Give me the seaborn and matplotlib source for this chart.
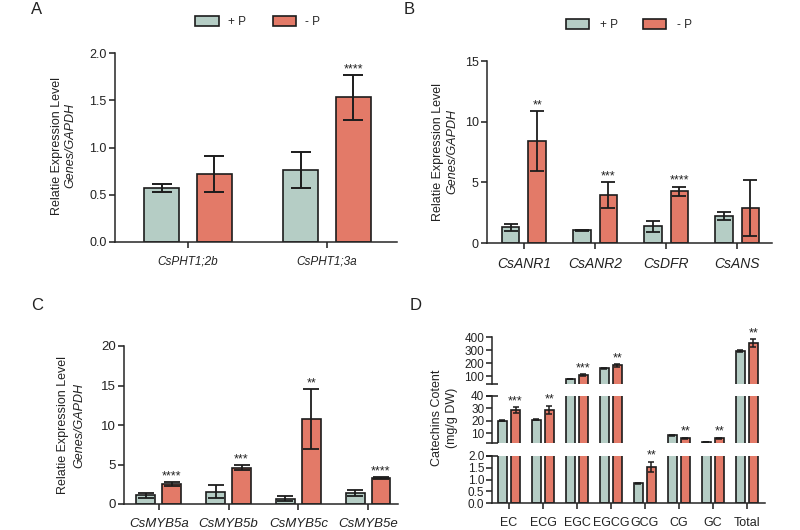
import numpy as np
import pandas as pd
import matplotlib
matplotlib.use("Agg")
import matplotlib.pyplot as plt
from matplotlib.ticker import FormatStrFormatter
import seaborn as sns

# ---------------- data ----------------
conds = ["+ P", "- P"]

genes_a = ["CsPHT1;2b", "CsPHT1;3a"]
a_plus = [0.57, 0.76]
a_plus_err = [0.04, 0.19]
a_minus = [0.72, 1.53]
a_minus_err = [0.19, 0.24]
a_sig = ["", "****"]

genes_b = ["CsANR1", "CsANR2", "CsDFR", "CsANS"]
b_plus = [1.3, 1.05, 1.37, 2.2]
b_plus_err = [0.3, 0.05, 0.46, 0.34]
b_minus = [8.4, 3.95, 4.27, 2.88]
b_minus_err = [2.5, 1.08, 0.38, 2.3]
b_sig = ["**", "***", "****", ""]

genes_c = ["CsMYB5a", "CsMYB5b", "CsMYB5c", "CsMYB5e"]
c_plus = [1.08, 1.58, 0.67, 1.38]
c_plus_err = [0.32, 0.8, 0.35, 0.35]
c_minus = [2.5, 4.58, 10.75, 3.33]
c_minus_err = [0.28, 0.3, 3.75, 0.12]
c_sig = ["****", "***", "**", "****"]

compounds = ["EC", "ECG", "EGC", "EGCG", "GCG", "CG", "GC", "Total"]
d_plus = [20.0, 21.0, 78, 162, 0.83, 8.1, 2.7, 292]
d_plus_err = [0.3, 0.4, 2, 4, 0.04, 0.2, 0.1, 6]
d_minus = [28.5, 29.0, 108, 182, 1.54, 6.0, 5.8, 352]
d_minus_err = [2.5, 3.2, 5, 13, 0.22, 0.4, 0.6, 30]
d_sig = ["***", "**", "***", "**", "**", "**", "**", "**"]

# ---------------- style ----------------
sns.set_style("ticks")
plt.rcParams["font.family"] = ["Liberation Sans", "DejaVu Sans"]
plt.rcParams["axes.linewidth"] = 1.1

TEAL = "#b5cdc5"
SALMON = "#e37a68"
INK = "#1c1c1c"
TXT = "#222222"

W, H = 800, 530
fig = plt.figure(figsize=(8, 5.3), dpi=100)


def px(l, t, r, b):
    return [l / W, 1 - b / H, (r - l) / W, (b - t) / H]


def fx(x):
    return x / W


def fy(y):
    return 1 - y / H


def make_df(cats, plus, minus):
    n = len(cats)
    return pd.DataFrame({
        "gene": list(cats) * 2,
        "cond": [conds[0]] * n + [conds[1]] * n,
        "value": list(plus) + list(minus),
    })


def draw_bars(ax, df, width, gap, legend=False):
    sns.barplot(data=df, x="gene", y="value", hue="cond", hue_order=conds,
                palette=[TEAL, SALMON], width=width, gap=gap, errorbar=None,
                saturation=1, edgecolor=INK, linewidth=1.2, legend=legend,
                ax=ax, zorder=2)
    return list(ax.containers[:2])


def add_errors(ax, bars, errs_list, capsize, lw, yrange=None):
    for cont, errs in zip(bars, errs_list):
        xs, ys, es = [], [], []
        for p, e in zip(cont, errs):
            v = p.get_height()
            if yrange is not None and not (yrange[0] <= v <= yrange[1]):
                continue
            xs.append(p.get_x() + p.get_width() / 2)
            ys.append(v)
            es.append(e)
        if xs:
            ax.errorbar(xs, ys, yerr=es, fmt="none", ecolor=INK, elinewidth=lw,
                        capsize=capsize, capthick=lw, zorder=3)


def add_stars(ax, cont, vals, errs, sigs, fs=9):
    for p, v, e, s in zip(cont, vals, errs, sigs):
        if s:
            ax.annotate(s, xy=(p.get_x() + p.get_width() / 2, v + e),
                        xytext=(0, 2), textcoords="offset points",
                        ha="center", va="baseline", fontsize=fs, color=TXT,
                        annotation_clip=False)


def style_axis(ax, ytick_fs, xtick_fs, italic=True):
    sns.despine(ax=ax)
    ax.set_xlabel("")
    ax.set_ylabel("")
    ax.tick_params(axis="both", direction="out", length=4, width=1.1,
                   color=INK, labelcolor=TXT)
    ax.tick_params(axis="y", labelsize=ytick_fs, pad=2)
    ax.tick_params(axis="x", labelsize=xtick_fs, pad=6)
    if italic:
        for lab in ax.get_xticklabels():
            lab.set_fontstyle("italic")


def ylabel2(x1, x2, yc1, yc2, l1, l2, fs=9, italic2=True):
    fig.text(fx(x1), fy(yc1), l1, rotation=90, ha="center", va="center",
             fontsize=fs, color=TXT)
    fig.text(fx(x2), fy(yc2), l2, rotation=90, ha="center", va="center",
             fontsize=fs, color=TXT, fontstyle="italic" if italic2 else "normal")


# ---------------- Panel A ----------------
axA = fig.add_axes(px(115, 53, 397, 242))
barsA = draw_bars(axA, make_df(genes_a, a_plus, a_minus), 0.76, 0.34, legend=True)
add_errors(axA, barsA, [a_plus_err, a_minus_err], 7, 1.4)
add_stars(axA, barsA[1], a_minus, a_minus_err, a_sig)
axA.set_ylim(0, 2.0)
axA.set_yticks([0, 0.5, 1.0, 1.5, 2.0])
axA.yaxis.set_major_formatter(FormatStrFormatter("%.1f"))
axA.set_xlim(-0.525, 1.504)
style_axis(axA, 9, 8.5)
sns.move_legend(axA, "center", bbox_to_anchor=(0.322, 0.959),
                bbox_transform=fig.transFigure, ncol=2, frameon=False,
                title=None, fontsize=8.5, handlelength=2.0, handleheight=1.0,
                handletextpad=0.75, columnspacing=2.3)
ylabel2(57, 70, 146, 146, "Relatie Expression Level", "Genes/GAPDH")

# ---------------- Panel B ----------------
axB = fig.add_axes(px(487, 61, 772, 243))
barsB = draw_bars(axB, make_df(genes_b, b_plus, b_minus), 0.746, 0.34, legend=True)
add_errors(axB, barsB, [b_plus_err, b_minus_err], 4.8, 1.3)
add_stars(axB, barsB[1], b_minus, b_minus_err, b_sig)
axB.set_ylim(0, 15)
axB.set_yticks([0, 5, 10, 15])
axB.set_xlim(-0.52, 3.49)
style_axis(axB, 9, 10)
sns.move_legend(axB, "center", bbox_to_anchor=(0.786, 0.953),
                bbox_transform=fig.transFigure, ncol=2, frameon=False,
                title=None, fontsize=8.5, handlelength=2.0, handleheight=1.0,
                handletextpad=0.9, columnspacing=2.1)
ylabel2(438, 452, 152, 152, "Relatie Expression Level", "Genes/GAPDH")

# ---------------- Panel C ----------------
axC = fig.add_axes(px(124, 346, 398, 504))
barsC = draw_bars(axC, make_df(genes_c, c_plus, c_minus), 0.743, 0.27)
add_errors(axC, barsC, [c_plus_err, c_minus_err], 5.5, 1.3)
add_stars(axC, barsC[1], c_minus, c_minus_err, c_sig)
axC.set_ylim(0, 20)
axC.set_yticks([0, 5, 10, 15, 20])
axC.set_xlim(-0.5, 3.43)
style_axis(axC, 9.5, 9.5)
ylabel2(63, 79, 425, 425, "Relatie Expression Level", "Genes/GAPDH")

# ---------------- Panel D (broken axis) ----------------
dfD = make_df(compounds, d_plus, d_minus)
seg_specs = [
    # (top px, bottom px, ylim, yticks, boundary ticks)
    (337, 384, (40, 400), [100, 200, 300, 400], [40]),
    (396, 443, (2, 40), [10, 20, 30, 40], [2, 40]),
    (456, 503, (0, 2.0), [0, 0.5, 1.0, 1.5, 2.0], [2.0]),
]
d_axes = []
for i, (t, b, yl, yt, bt) in enumerate(seg_specs):
    ax = fig.add_axes(px(492, t, 765, b))
    bars = draw_bars(ax, dfD, 0.765, 0.30)
    add_errors(ax, bars, [d_plus_err, d_minus_err], 2.4, 1.1, yrange=yl)
    ax.set_ylim(*yl)
    ax.set_yticks(yt)
    ax.set_xlim(-0.5, 7.53)
    style_axis(ax, 8.5, 9, italic=False)
    ax.tick_params(axis="y", pad=1.5)
    ax.yaxis.remove_overlapping_locs = False
    ax.set_yticks(bt, minor=True)
    ax.tick_params(axis="y", which="minor", direction="inout", length=9,
                   width=1.1, color=INK)
    if i == 2:
        ax.yaxis.set_major_formatter(FormatStrFormatter("%.1f"))
    else:
        ax.spines["bottom"].set_visible(False)
        ax.tick_params(axis="x", bottom=False, labelbottom=False)
    d_axes.append((ax, bars))

# stars in the segment holding the top of each error bar
for j, s in enumerate(d_sig):
    top = d_minus[j] + d_minus_err[j]
    k = 0 if top > 40 else (1 if top > 2 else 2)
    ax, bars = d_axes[k]
    p = bars[1][j]
    ax.annotate(s, xy=(p.get_x() + p.get_width() / 2, top), xytext=(0, 2),
                textcoords="offset points", ha="center", va="baseline",
                fontsize=9, color=TXT, annotation_clip=False)

ylabel2(437, 452, 418, 418, "Catechins Cotent", "(mg/g DW)", italic2=False)

# ---------------- panel letters ----------------
for letter, (x, y) in {"A": (37, 10), "B": (409, 10), "C": (37, 305), "D": (416, 305)}.items():
    fig.text(fx(x), fy(y), letter, ha="center", va="center", fontsize=12, color=TXT)

fig.savefig("out.png", dpi=100)
